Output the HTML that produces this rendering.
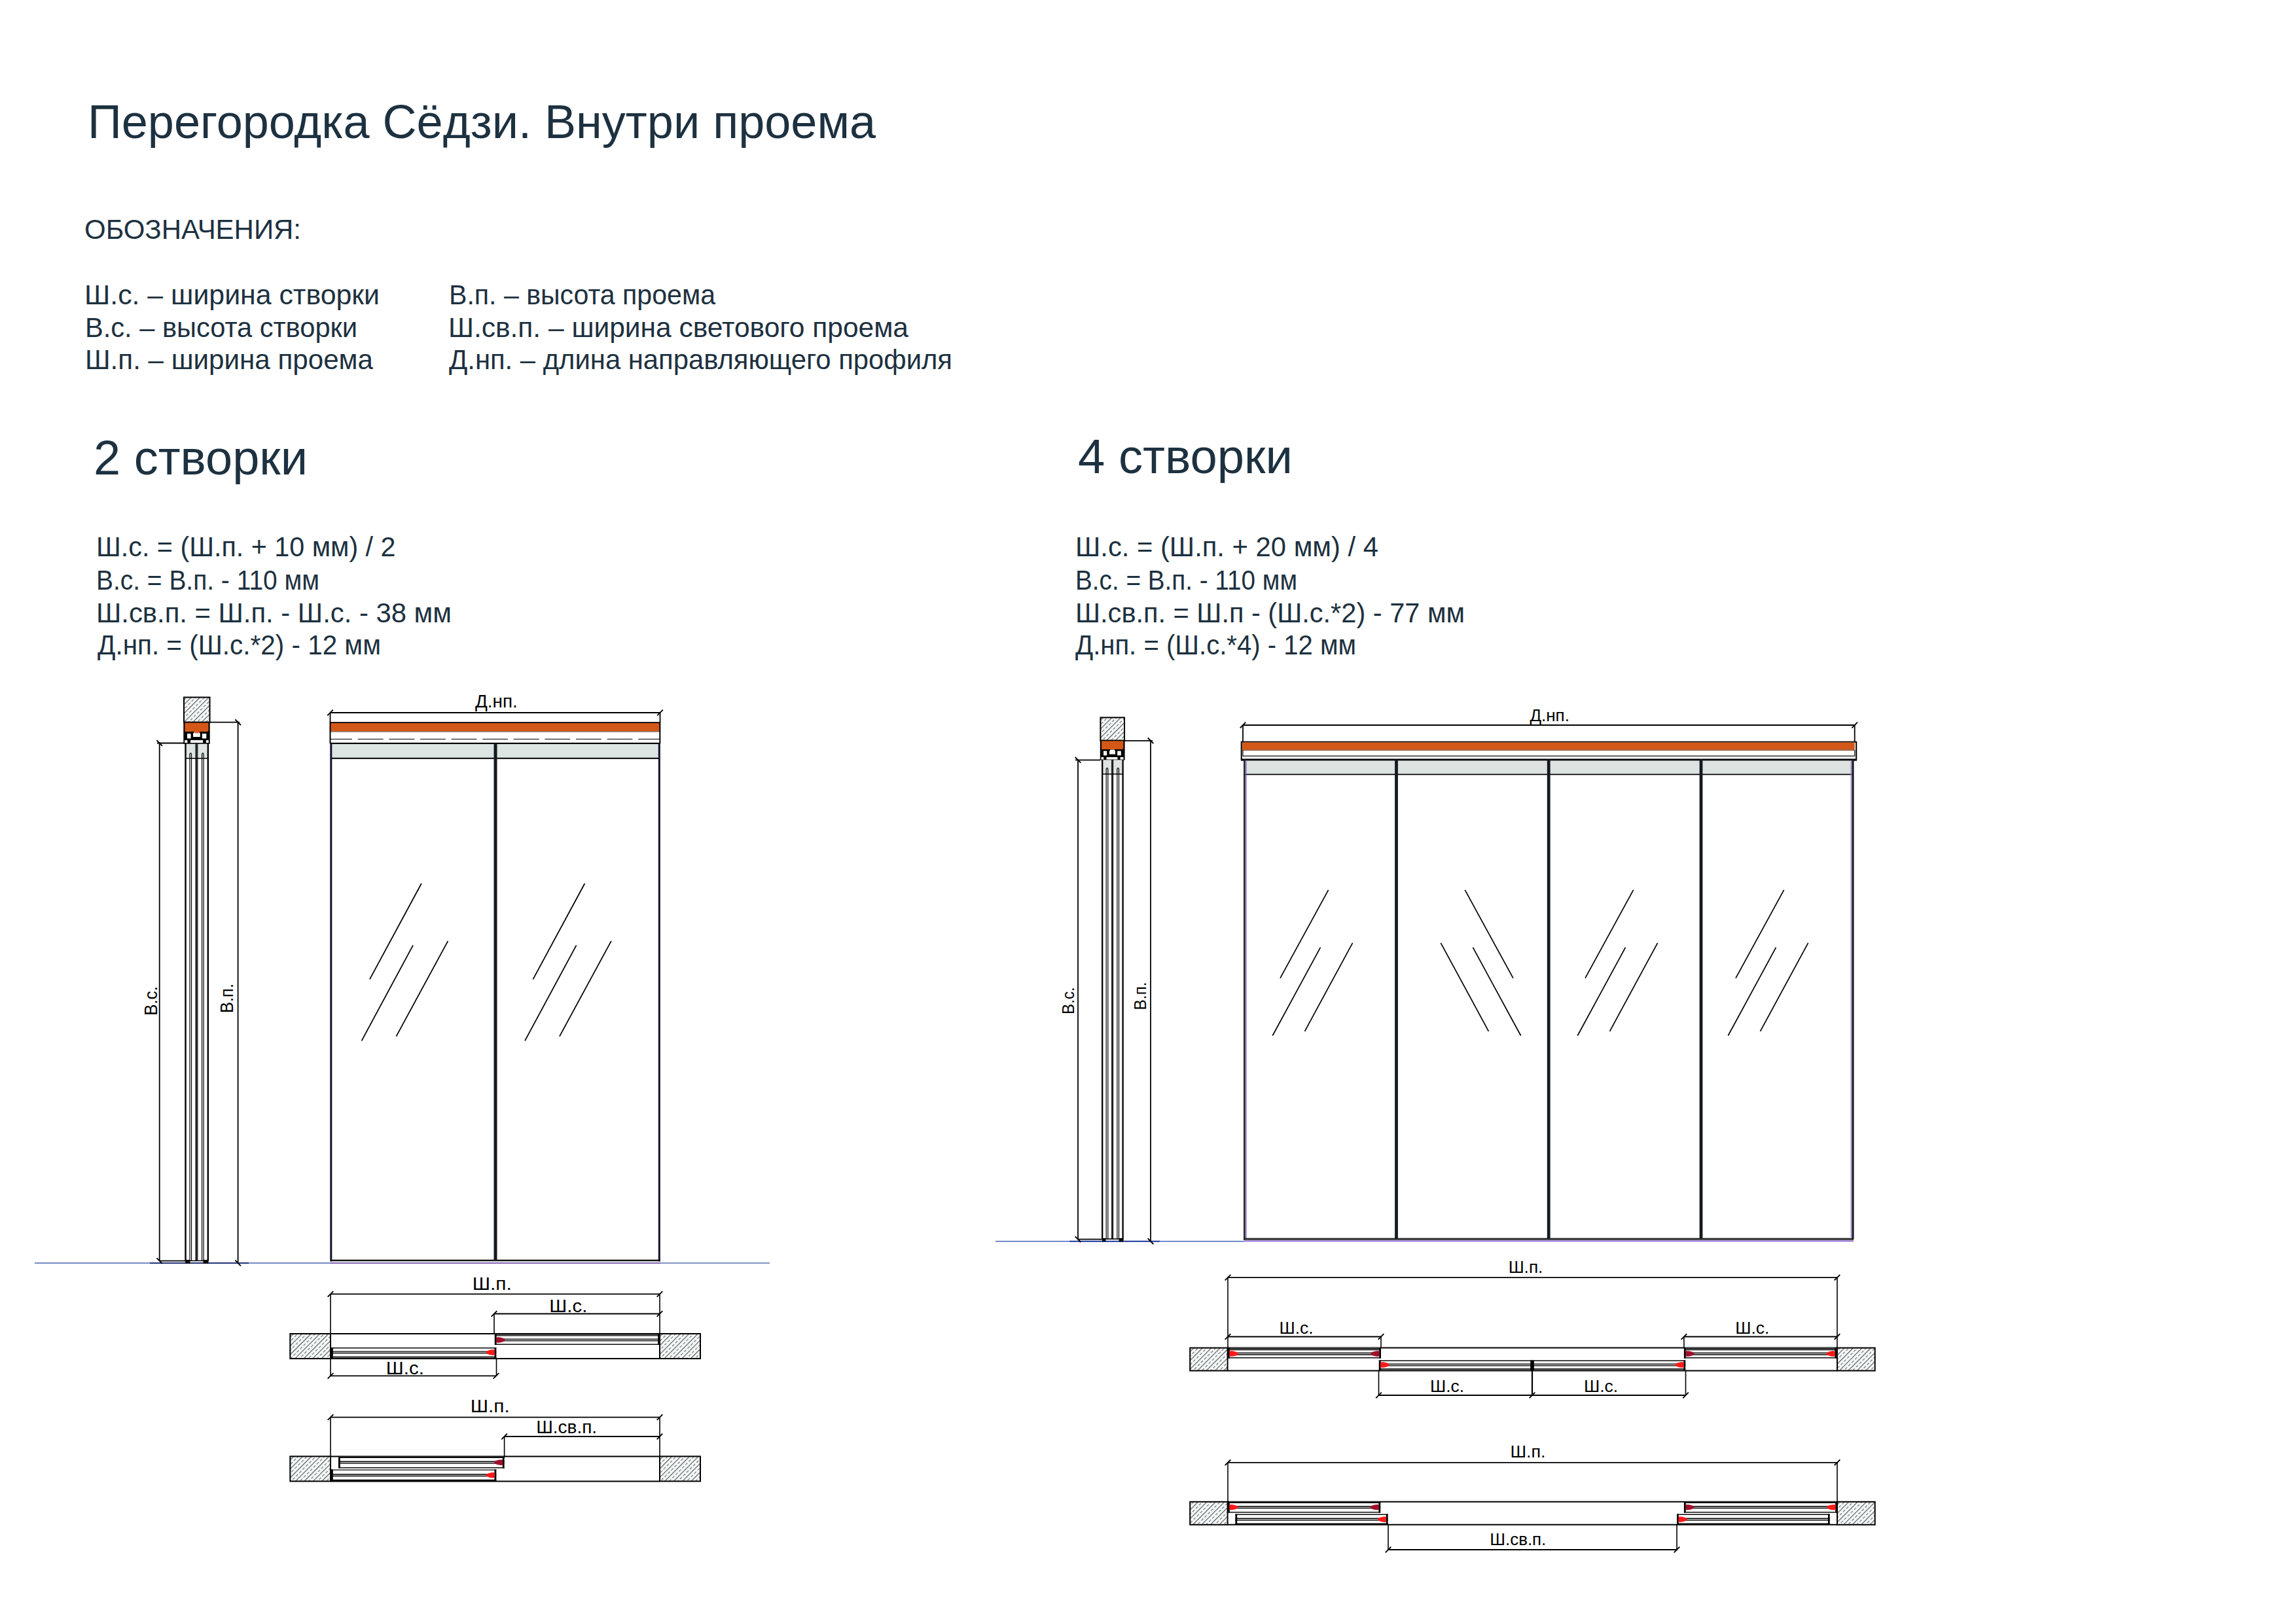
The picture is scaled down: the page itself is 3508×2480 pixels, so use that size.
<!DOCTYPE html>
<html><head><meta charset="utf-8">
<style>
html,body{margin:0;padding:0;background:#fff;}
body{width:3508px;height:2480px;overflow:hidden;position:relative;}
svg{position:absolute;left:0;top:0;font-family:"Liberation Sans",sans-serif;}
</style></head><body>
<svg width="3508" height="2480" viewBox="0 0 3508 2480">
<defs>
<pattern id="hatch" patternUnits="userSpaceOnUse" width="9.5" height="14.2" patternTransform="rotate(45)">
<rect width="9.5" height="14.2" fill="#f5f9f9"/>
<line x1="0.6" y1="-1" x2="0.6" y2="15.2" stroke="#5c5c5c" stroke-width="1.2"/>
<line x1="5.35" y1="0" x2="5.35" y2="14.2" stroke="#666" stroke-width="1.1" stroke-dasharray="4.6 2.5"/>
</pattern>
</defs>
<text x="134" y="211" font-size="73" fill="#1d3140" text-anchor="start" textLength="1204" lengthAdjust="spacingAndGlyphs" >Перегородка Сёдзи. Внутри проема</text>
<text x="129" y="365" font-size="43" fill="#1d3140" text-anchor="start" textLength="331" lengthAdjust="spacingAndGlyphs" >ОБОЗНАЧЕНИЯ:</text>
<text x="129" y="465" font-size="42" fill="#1d3140" text-anchor="start" textLength="451" lengthAdjust="spacingAndGlyphs" >Ш.с. – ширина створки</text>
<text x="130" y="515" font-size="42" fill="#1d3140" text-anchor="start" textLength="416" lengthAdjust="spacingAndGlyphs" >В.с. – высота створки</text>
<text x="130" y="564" font-size="42" fill="#1d3140" text-anchor="start" textLength="440" lengthAdjust="spacingAndGlyphs" >Ш.п. – ширина проема</text>
<text x="686" y="465" font-size="42" fill="#1d3140" text-anchor="start" textLength="407" lengthAdjust="spacingAndGlyphs" >В.п. – высота проема</text>
<text x="685" y="515" font-size="42" fill="#1d3140" text-anchor="start" textLength="703" lengthAdjust="spacingAndGlyphs" >Ш.св.п. – ширина светового проема</text>
<text x="686" y="564" font-size="42" fill="#1d3140" text-anchor="start" textLength="769" lengthAdjust="spacingAndGlyphs" >Д.нп. – длина направляющего профиля</text>
<text x="143" y="724.5" font-size="75" fill="#1d3140" text-anchor="start" textLength="327" lengthAdjust="spacingAndGlyphs" >2 створки</text>
<text x="1647" y="723" font-size="75" fill="#1d3140" text-anchor="start" textLength="328" lengthAdjust="spacingAndGlyphs" >4 створки</text>
<text x="147" y="850" font-size="42" fill="#1d3140" text-anchor="start" textLength="457.5" lengthAdjust="spacingAndGlyphs" >Ш.с. = (Ш.п. + 10 мм) / 2</text>
<text x="147" y="900.5" font-size="42" fill="#1d3140" text-anchor="start" textLength="341" lengthAdjust="spacingAndGlyphs" >В.с. = В.п. - 110 мм</text>
<text x="147" y="951" font-size="42" fill="#1d3140" text-anchor="start" textLength="543" lengthAdjust="spacingAndGlyphs" >Ш.св.п. = Ш.п. - Ш.с. - 38 мм</text>
<text x="149" y="1000" font-size="42" fill="#1d3140" text-anchor="start" textLength="433" lengthAdjust="spacingAndGlyphs" >Д.нп. = (Ш.с.*2) - 12 мм</text>
<text x="1643" y="850" font-size="42" fill="#1d3140" text-anchor="start" textLength="463" lengthAdjust="spacingAndGlyphs" >Ш.с. = (Ш.п. + 20 мм) / 4</text>
<text x="1643" y="900.5" font-size="42" fill="#1d3140" text-anchor="start" textLength="339" lengthAdjust="spacingAndGlyphs" >В.с. = В.п. - 110 мм</text>
<text x="1643" y="951" font-size="42" fill="#1d3140" text-anchor="start" textLength="595" lengthAdjust="spacingAndGlyphs" >Ш.св.п. = Ш.п - (Ш.с.*2) - 77 мм</text>
<text x="1643" y="1000" font-size="42" fill="#1d3140" text-anchor="start" textLength="429" lengthAdjust="spacingAndGlyphs" >Д.нп. = (Ш.с.*4) - 12 мм</text>
<line x1="53" y1="1930" x2="505" y2="1930" stroke="#4a66b4" stroke-width="1.6" />
<line x1="505" y1="1930" x2="1009" y2="1930" stroke="#8464b4" stroke-width="1.8" />
<line x1="1009" y1="1930" x2="1176" y2="1930" stroke="#5a72a8" stroke-width="1.6" />
<line x1="229" y1="1930" x2="380" y2="1930" stroke="#24347a" stroke-width="1.9" />
<rect x="283" y="1925" width="7.5" height="6" fill="#111" stroke="none" stroke-width="0" />
<rect x="310.5" y="1925" width="8" height="6" fill="#111" stroke="none" stroke-width="0" />
<rect x="281" y="1065.5" width="39.5" height="38" fill="url(#hatch)" stroke="#000" stroke-width="2"/>
<rect x="280.3" y="1103" width="40.4" height="33.8" fill="#000" stroke="none" stroke-width="0" />
<path d="M282.5 1104.5 H318.5 V1116 Q318.5 1118 316.5 1118 H282.5 Z" fill="#d35818"/>
<rect x="286" y="1121" width="5.6" height="7.4" fill="#fff" stroke="none" stroke-width="0" />
<rect x="308.8" y="1121" width="6.5" height="7.4" fill="#fff" stroke="none" stroke-width="0" />
<path d="M297 1118.5 L304 1118.5 L305.8 1121 L305.8 1126 L295 1126 L295 1121 Z" fill="#fff"/>
<path d="M296.5 1117.5 L305 1117.5 L303.2 1120.6 L298.3 1120.6 Z" fill="#e06020"/>
<rect x="282.2" y="1131" width="4.2" height="4" fill="#fff" stroke="none" stroke-width="0" />
<rect x="291" y="1131" width="19" height="4" fill="#fff" stroke="none" stroke-width="0" />
<rect x="314.9" y="1131" width="3.8" height="4" fill="#fff" stroke="none" stroke-width="0" />
<rect x="284.6" y="1136.8" width="14" height="21.7" fill="#dde4e2" stroke="none" stroke-width="0" />
<rect x="302.3" y="1136.8" width="14.2" height="21.7" fill="#dde4e2" stroke="none" stroke-width="0" />
<line x1="283.5" y1="1136.5" x2="283.5" y2="1927" stroke="#000" stroke-width="2.4" />
<line x1="317.8" y1="1136.5" x2="317.8" y2="1927" stroke="#000" stroke-width="2.4" />
<line x1="300.4" y1="1136.5" x2="300.4" y2="1927" stroke="#262626" stroke-width="4" />
<line x1="284" y1="1158.8" x2="317" y2="1158.8" stroke="#000" stroke-width="1.6" />
<path d="M290 1927 V1152.5 Q290 1150.8 291.25 1150.8 Q292.5 1150.8 292.5 1152.5 V1927" fill="none" stroke="#000" stroke-width="1.2"/>
<path d="M308.55 1927 V1152.5 Q308.55 1150.8 309.8 1150.8 Q311.05 1150.8 311.05 1152.5 V1927" fill="none" stroke="#000" stroke-width="1.2"/>
<line x1="283" y1="1926.5" x2="318" y2="1926.5" stroke="#000" stroke-width="1.6" />
<line x1="243.7" y1="1135.5" x2="243.7" y2="1926.6" stroke="#000" stroke-width="1.8" />
<line x1="240" y1="1135.5" x2="281" y2="1135.5" stroke="#000" stroke-width="1.8" />
<line x1="243.7" y1="1926.6" x2="283" y2="1926.6" stroke="#000" stroke-width="1.8" />
<line x1="239.4" y1="1131.2" x2="248" y2="1139.8" stroke="#000" stroke-width="1.9" />
<line x1="239.4" y1="1922.3" x2="248" y2="1930.9" stroke="#000" stroke-width="1.9" />
<line x1="363.6" y1="1103.7" x2="363.6" y2="1930" stroke="#000" stroke-width="1.8" />
<line x1="320.5" y1="1103.7" x2="366" y2="1103.7" stroke="#000" stroke-width="1.8" />
<line x1="359.3" y1="1099.4" x2="367.9" y2="1108" stroke="#000" stroke-width="1.9" />
<line x1="359.3" y1="1925.7" x2="367.9" y2="1934.3" stroke="#000" stroke-width="1.9" />
<text x="0" y="0" font-size="28" fill="#000" textLength="44.6" lengthAdjust="spacingAndGlyphs" transform="translate(240,1551.7) rotate(-90)">В.с.</text>
<text x="0" y="0" font-size="28" fill="#000" textLength="45" lengthAdjust="spacingAndGlyphs" transform="translate(356,1548) rotate(-90)">В.п.</text>
<line x1="504.5" y1="1089" x2="1008.5" y2="1089" stroke="#000" stroke-width="1.8" />
<line x1="504.5" y1="1089" x2="504.5" y2="1104" stroke="#000" stroke-width="1.8" />
<line x1="1008.5" y1="1089" x2="1008.5" y2="1104" stroke="#000" stroke-width="1.8" />
<line x1="500.2" y1="1093.3" x2="508.8" y2="1084.7" stroke="#000" stroke-width="1.9" />
<line x1="1004.2" y1="1093.3" x2="1012.8" y2="1084.7" stroke="#000" stroke-width="1.9" />
<text x="726" y="1081" font-size="27" fill="#000" text-anchor="start" textLength="64.7" lengthAdjust="spacingAndGlyphs" >Д.нп.</text>
<rect x="504.5" y="1103.2" width="504" height="2" fill="#000" stroke="none" stroke-width="0" />
<rect x="504.5" y="1105" width="504" height="12.5" fill="#d35818" stroke="none" stroke-width="0" />
<rect x="504.5" y="1117.3" width="504" height="1.3" fill="#7a5a48" stroke="none" stroke-width="0" />
<line x1="505" y1="1129.5" x2="1008" y2="1129.5" stroke="#444" stroke-width="1.5" stroke-dasharray="38.8 8.8" stroke-dashoffset="5.8"/>
<rect x="504.5" y="1134.8" width="504" height="2.4" fill="#000" stroke="none" stroke-width="0" />
<line x1="504.5" y1="1103.5" x2="504.5" y2="1136" stroke="#000" stroke-width="2" />
<line x1="1008.3" y1="1103.5" x2="1008.3" y2="1136" stroke="#000" stroke-width="2" />
<rect x="506" y="1137" width="500.5" height="21.5" fill="#dde5e3" stroke="none" stroke-width="0" />
<line x1="506" y1="1158.8" x2="1006" y2="1158.8" stroke="#000" stroke-width="2" />
<line x1="505.8" y1="1136" x2="505.8" y2="1927.6" stroke="#140f30" stroke-width="3" />
<line x1="1007.3" y1="1136" x2="1007.3" y2="1927.6" stroke="#140f30" stroke-width="3" />
<line x1="505" y1="1926" x2="1009" y2="1926" stroke="#111" stroke-width="2.6" />
<line x1="757" y1="1136" x2="757" y2="1927" stroke="#141a20" stroke-width="5" />
<line x1="643.9" y1="1350" x2="564.9" y2="1496.3" stroke="#000" stroke-width="1.75" />
<line x1="631.1" y1="1444.4" x2="552.5" y2="1590.3" stroke="#000" stroke-width="1.75" />
<line x1="684.4" y1="1437.8" x2="605.4" y2="1583.6" stroke="#000" stroke-width="1.75" />
<line x1="893.4" y1="1350" x2="814.4" y2="1496.3" stroke="#000" stroke-width="1.75" />
<line x1="880.6" y1="1444.4" x2="802" y2="1590.3" stroke="#000" stroke-width="1.75" />
<line x1="933.9" y1="1437.8" x2="854.9" y2="1583.6" stroke="#000" stroke-width="1.75" />
<rect x="443.3" y="2038" width="61.7" height="38" fill="url(#hatch)" stroke="#000" stroke-width="2"/>
<rect x="1008" y="2038" width="62" height="38" fill="url(#hatch)" stroke="#000" stroke-width="2"/>
<line x1="505" y1="2038" x2="1008" y2="2038" stroke="#000" stroke-width="2" />
<line x1="505" y1="2076" x2="1008" y2="2076" stroke="#000" stroke-width="2" />
<rect x="755.8" y="2038" width="252.2" height="17" fill="#fff" stroke="none" stroke-width="0" />
<line x1="755.8" y1="2039.85" x2="1008" y2="2039.85" stroke="#999" stroke-width="1.2" />
<line x1="755.8" y1="2038.8" x2="1008" y2="2038.8" stroke="#0a0a0a" stroke-width="1.4" />
<line x1="755.8" y1="2040.9" x2="1008" y2="2040.9" stroke="#0a0a0a" stroke-width="1.4" />
<line x1="755.8" y1="2054.2" x2="1008" y2="2054.2" stroke="#0a0a0a" stroke-width="1.4" />
<line x1="755.8" y1="2047.55" x2="1008" y2="2047.55" stroke="#aaa" stroke-width="1.6" />
<line x1="755.8" y1="2046.15" x2="1008" y2="2046.15" stroke="#0a0a0a" stroke-width="1.3" />
<line x1="755.8" y1="2048.95" x2="1008" y2="2048.95" stroke="#0a0a0a" stroke-width="1.3" />
<line x1="757.2" y1="2038" x2="757.2" y2="2055" stroke="#000" stroke-width="2.8" />
<line x1="1006.6" y1="2038" x2="1006.6" y2="2055" stroke="#000" stroke-width="2.8" />
<path d="M758.3 2043.35 C765.3 2042.95 769.3 2044.95 771.3 2046.35 L771.3 2048.75 C769.3 2050.15 765.3 2052.15 758.3 2051.75 Z" fill="#a0102a"/>
<rect x="506" y="2059" width="252.3" height="17" fill="#fff" stroke="none" stroke-width="0" />
<line x1="506" y1="2074.15" x2="758.3" y2="2074.15" stroke="#999" stroke-width="1.2" />
<line x1="506" y1="2059.8" x2="758.3" y2="2059.8" stroke="#0a0a0a" stroke-width="1.4" />
<line x1="506" y1="2073.1" x2="758.3" y2="2073.1" stroke="#0a0a0a" stroke-width="1.4" />
<line x1="506" y1="2075.2" x2="758.3" y2="2075.2" stroke="#0a0a0a" stroke-width="1.4" />
<line x1="506" y1="2066.45" x2="758.3" y2="2066.45" stroke="#aaa" stroke-width="1.6" />
<line x1="506" y1="2065.05" x2="758.3" y2="2065.05" stroke="#0a0a0a" stroke-width="1.3" />
<line x1="506" y1="2067.85" x2="758.3" y2="2067.85" stroke="#0a0a0a" stroke-width="1.3" />
<line x1="507.4" y1="2059" x2="507.4" y2="2076" stroke="#000" stroke-width="2.8" />
<line x1="756.9" y1="2059" x2="756.9" y2="2076" stroke="#000" stroke-width="2.8" />
<path d="M755.8 2062.25 C748.8 2061.85 744.8 2063.85 742.8 2065.25 L742.8 2067.65 C744.8 2069.05 748.8 2071.05 755.8 2070.65 Z" fill="#ff1a1a"/>
<line x1="505" y1="1977.4" x2="1008" y2="1977.4" stroke="#000" stroke-width="1.8" />
<line x1="500.7" y1="1981.7" x2="509.3" y2="1973.1" stroke="#000" stroke-width="1.9" />
<line x1="1003.7" y1="1981.7" x2="1012.3" y2="1973.1" stroke="#000" stroke-width="1.9" />
<line x1="505" y1="1977.4" x2="505" y2="2038" stroke="#000" stroke-width="1.6" />
<line x1="1008" y1="1977.4" x2="1008" y2="2038" stroke="#000" stroke-width="1.6" />
<text x="751.75" y="1971.1" font-size="27.5" fill="#000" text-anchor="middle" textLength="60" lengthAdjust="spacingAndGlyphs" >Ш.п.</text>
<line x1="755" y1="2007.5" x2="1008" y2="2007.5" stroke="#000" stroke-width="1.8" />
<line x1="750.7" y1="2011.8" x2="759.3" y2="2003.2" stroke="#000" stroke-width="1.9" />
<line x1="1003.7" y1="2011.8" x2="1012.3" y2="2003.2" stroke="#000" stroke-width="1.9" />
<line x1="755" y1="2007.5" x2="755" y2="2039" stroke="#000" stroke-width="1.6" />
<text x="868.35" y="2004.7" font-size="27.5" fill="#000" text-anchor="middle" textLength="58" lengthAdjust="spacingAndGlyphs" >Ш.с.</text>
<line x1="505" y1="2102.4" x2="758" y2="2102.4" stroke="#000" stroke-width="1.8" />
<line x1="500.7" y1="2106.7" x2="509.3" y2="2098.1" stroke="#000" stroke-width="1.9" />
<line x1="753.7" y1="2106.7" x2="762.3" y2="2098.1" stroke="#000" stroke-width="1.9" />
<line x1="505" y1="2076" x2="505" y2="2102.4" stroke="#000" stroke-width="1.6" />
<line x1="758.5" y1="2076" x2="758.5" y2="2102.4" stroke="#000" stroke-width="1.6" />
<text x="618.85" y="2100" font-size="27.5" fill="#000" text-anchor="middle" textLength="58" lengthAdjust="spacingAndGlyphs" >Ш.с.</text>
<rect x="443.3" y="2225.4" width="61.7" height="38" fill="url(#hatch)" stroke="#000" stroke-width="2"/>
<rect x="1008" y="2225.4" width="62" height="38" fill="url(#hatch)" stroke="#000" stroke-width="2"/>
<line x1="505" y1="2225.4" x2="1008" y2="2225.4" stroke="#000" stroke-width="2" />
<line x1="505" y1="2263.4" x2="1008" y2="2263.4" stroke="#000" stroke-width="2" />
<rect x="517" y="2225.8" width="253.6" height="17.7" fill="#fff" stroke="none" stroke-width="0" />
<line x1="517" y1="2226.9" x2="770.6" y2="2226.9" stroke="#111" stroke-width="2.4" />
<line x1="517" y1="2226.6" x2="770.6" y2="2226.6" stroke="#0a0a0a" stroke-width="1.4" />
<line x1="517" y1="2242.7" x2="770.6" y2="2242.7" stroke="#0a0a0a" stroke-width="1.4" />
<line x1="517" y1="2234.65" x2="770.6" y2="2234.65" stroke="#aaa" stroke-width="1.6" />
<line x1="517" y1="2233.25" x2="770.6" y2="2233.25" stroke="#0a0a0a" stroke-width="1.3" />
<line x1="517" y1="2236.05" x2="770.6" y2="2236.05" stroke="#0a0a0a" stroke-width="1.3" />
<line x1="518.4" y1="2225.8" x2="518.4" y2="2243.5" stroke="#000" stroke-width="2.8" />
<line x1="769.2" y1="2225.8" x2="769.2" y2="2243.5" stroke="#000" stroke-width="2.8" />
<path d="M768.1 2230.45 C761.1 2230.05 757.1 2232.05 755.1 2233.45 L755.1 2235.85 C757.1 2237.25 761.1 2239.25 768.1 2238.85 Z" fill="#a0102a"/>
<rect x="506" y="2245.3" width="252.3" height="17.7" fill="#fff" stroke="none" stroke-width="0" />
<line x1="506" y1="2261.9" x2="758.3" y2="2261.9" stroke="#111" stroke-width="2.4" />
<line x1="506" y1="2246.1" x2="758.3" y2="2246.1" stroke="#0a0a0a" stroke-width="1.4" />
<line x1="506" y1="2262.2" x2="758.3" y2="2262.2" stroke="#0a0a0a" stroke-width="1.4" />
<line x1="506" y1="2254.15" x2="758.3" y2="2254.15" stroke="#aaa" stroke-width="1.6" />
<line x1="506" y1="2252.75" x2="758.3" y2="2252.75" stroke="#0a0a0a" stroke-width="1.3" />
<line x1="506" y1="2255.55" x2="758.3" y2="2255.55" stroke="#0a0a0a" stroke-width="1.3" />
<line x1="507.4" y1="2245.3" x2="507.4" y2="2263" stroke="#000" stroke-width="2.8" />
<line x1="756.9" y1="2245.3" x2="756.9" y2="2263" stroke="#000" stroke-width="2.8" />
<path d="M755.8 2249.95 C748.8 2249.55 744.8 2251.55 742.8 2252.95 L742.8 2255.35 C744.8 2256.75 748.8 2258.75 755.8 2258.35 Z" fill="#ff1a1a"/>
<line x1="505" y1="2165.6" x2="1008" y2="2165.6" stroke="#000" stroke-width="1.8" />
<line x1="500.7" y1="2169.9" x2="509.3" y2="2161.3" stroke="#000" stroke-width="1.9" />
<line x1="1003.7" y1="2169.9" x2="1012.3" y2="2161.3" stroke="#000" stroke-width="1.9" />
<line x1="505" y1="2165.6" x2="505" y2="2226" stroke="#000" stroke-width="1.6" />
<line x1="1008" y1="2165.6" x2="1008" y2="2226" stroke="#000" stroke-width="1.6" />
<text x="748.75" y="2158.2" font-size="27.5" fill="#000" text-anchor="middle" textLength="60" lengthAdjust="spacingAndGlyphs" >Ш.п.</text>
<line x1="770.6" y1="2195" x2="1008" y2="2195" stroke="#000" stroke-width="1.8" />
<line x1="766.3" y1="2199.3" x2="774.9" y2="2190.7" stroke="#000" stroke-width="1.9" />
<line x1="1003.7" y1="2199.3" x2="1012.3" y2="2190.7" stroke="#000" stroke-width="1.9" />
<line x1="770.6" y1="2195" x2="770.6" y2="2227" stroke="#000" stroke-width="1.6" />
<text x="865.65" y="2189.8" font-size="27.5" fill="#000" text-anchor="middle" textLength="93" lengthAdjust="spacingAndGlyphs" >Ш.св.п.</text>
<line x1="1521" y1="1896.7" x2="1901" y2="1896.7" stroke="#4a66c0" stroke-width="1.6" />
<line x1="1901" y1="1896.4" x2="2832" y2="1896.4" stroke="#8a5ad0" stroke-width="1.7" />
<line x1="1634" y1="1896.7" x2="1772" y2="1896.7" stroke="#2440a0" stroke-width="1.9" />
<rect x="1684" y="1892" width="5.5" height="5.5" fill="#111" stroke="none" stroke-width="0" />
<rect x="1709.5" y="1892" width="7" height="5.5" fill="#111" stroke="none" stroke-width="0" />
<rect x="1681.4" y="1096.4" width="36.6" height="35.1" fill="url(#hatch)" stroke="#000" stroke-width="2"/>
<rect x="1680.8" y="1131" width="37.8" height="30.5" fill="#000" stroke="none" stroke-width="0" />
<path d="M1683 1132.3 H1716.4 V1143 Q1716.4 1145 1714.4 1145 H1683 Z" fill="#d35818"/>
<rect x="1686" y="1147.5" width="5.2" height="6.8" fill="#fff" stroke="none" stroke-width="0" />
<rect x="1707.2" y="1147.5" width="5.6" height="6.8" fill="#fff" stroke="none" stroke-width="0" />
<path d="M1696.5 1145.6 L1702.7 1145.6 L1704 1148 L1704 1152.5 L1695 1152.5 L1695 1148 Z" fill="#fff"/>
<rect x="1682.5" y="1157" width="3.8" height="3.5" fill="#fff" stroke="none" stroke-width="0" />
<rect x="1690.5" y="1157" width="17" height="3.5" fill="#fff" stroke="none" stroke-width="0" />
<rect x="1711.6" y="1157" width="4.9" height="3.5" fill="#fff" stroke="none" stroke-width="0" />
<rect x="1685" y="1161.5" width="13" height="21" fill="#dde4e2" stroke="none" stroke-width="0" />
<rect x="1701" y="1161.5" width="13.7" height="21" fill="#dde4e2" stroke="none" stroke-width="0" />
<line x1="1684.2" y1="1161" x2="1684.2" y2="1893.7" stroke="#000" stroke-width="2.3" />
<line x1="1715.6" y1="1161" x2="1715.6" y2="1893.7" stroke="#000" stroke-width="2.3" />
<line x1="1699.6" y1="1161" x2="1699.6" y2="1893.7" stroke="#222" stroke-width="3.2" />
<line x1="1684.5" y1="1182.8" x2="1715.5" y2="1182.8" stroke="#000" stroke-width="1.5" />
<path d="M1690.2 1893.7 V1175.5 Q1690.2 1173.7 1691.5 1173.7 Q1692.8 1173.7 1692.8 1175.5 V1893.7" fill="none" stroke="#000" stroke-width="1.2"/>
<path d="M1706.9 1893.7 V1175.5 Q1706.9 1173.7 1708.2 1173.7 Q1709.5 1173.7 1709.5 1175.5 V1893.7" fill="none" stroke="#000" stroke-width="1.2"/>
<line x1="1684" y1="1893.2" x2="1716" y2="1893.2" stroke="#000" stroke-width="1.6" />
<line x1="1647" y1="1161.3" x2="1647" y2="1893.7" stroke="#000" stroke-width="1.8" />
<line x1="1643" y1="1161.3" x2="1681" y2="1161.3" stroke="#000" stroke-width="1.8" />
<line x1="1647" y1="1893.7" x2="1684" y2="1893.7" stroke="#000" stroke-width="1.8" />
<line x1="1642.7" y1="1157" x2="1651.3" y2="1165.6" stroke="#000" stroke-width="1.9" />
<line x1="1642.7" y1="1889.4" x2="1651.3" y2="1898" stroke="#000" stroke-width="1.9" />
<line x1="1758" y1="1131.8" x2="1758" y2="1896.7" stroke="#000" stroke-width="1.8" />
<line x1="1718" y1="1131.8" x2="1761" y2="1131.8" stroke="#000" stroke-width="1.8" />
<line x1="1753.7" y1="1127.5" x2="1762.3" y2="1136.1" stroke="#000" stroke-width="1.9" />
<line x1="1753.7" y1="1892.4" x2="1762.3" y2="1901" stroke="#000" stroke-width="1.9" />
<text x="0" y="0" font-size="26" fill="#000" textLength="41.8" lengthAdjust="spacingAndGlyphs" transform="translate(1640.8,1550) rotate(-90)">В.с.</text>
<text x="0" y="0" font-size="26" fill="#000" textLength="43" lengthAdjust="spacingAndGlyphs" transform="translate(1750.9,1543.4) rotate(-90)">В.п.</text>
<line x1="1899" y1="1108" x2="2833.7" y2="1108" stroke="#000" stroke-width="1.8" />
<line x1="1899" y1="1108" x2="1899" y2="1133" stroke="#000" stroke-width="1.8" />
<line x1="2833.7" y1="1108" x2="2833.7" y2="1133" stroke="#000" stroke-width="1.8" />
<line x1="1894.7" y1="1112.3" x2="1903.3" y2="1103.7" stroke="#000" stroke-width="1.9" />
<line x1="2829.4" y1="1112.3" x2="2838" y2="1103.7" stroke="#000" stroke-width="1.9" />
<text x="2337.5" y="1102" font-size="25.7" fill="#000" text-anchor="start" textLength="60.4" lengthAdjust="spacingAndGlyphs" >Д.нп.</text>
<rect x="1896.7" y="1133.7" width="939.5" height="26.7" fill="#fff" stroke="#000" stroke-width="2" />
<rect x="1898" y="1134.4" width="935.7" height="11.4" fill="#d35818" stroke="none" stroke-width="0" />
<rect x="1898" y="1145.5" width="935.7" height="1.5" fill="#8a5a40" stroke="none" stroke-width="0" />
<path d="M1899 1146 V1155.3 H2833.7 V1146" fill="none" stroke="#333" stroke-width="1.4"/>
<rect x="1896" y="1160" width="941" height="2.6" fill="#05060a" stroke="none" stroke-width="0" />
<rect x="1903" y="1162.5" width="927" height="20" fill="#dde3e1" stroke="none" stroke-width="0" />
<line x1="1902" y1="1183.3" x2="2830" y2="1183.3" stroke="#000" stroke-width="1.7" />
<line x1="1901.3" y1="1161" x2="1901.3" y2="1893" stroke="#222" stroke-width="2.6" />
<line x1="1903.8" y1="1163" x2="1903.8" y2="1893" stroke="#7a5ac0" stroke-width="1.4" />
<line x1="2831" y1="1161" x2="2831" y2="1893" stroke="#141020" stroke-width="3" />
<line x1="2828.3" y1="1163" x2="2828.3" y2="1891" stroke="#9a80d0" stroke-width="1.4" />
<line x1="1900" y1="1893.2" x2="2832" y2="1893.2" stroke="#111" stroke-width="3" />
<line x1="1902" y1="1893.2" x2="2830" y2="1893.2" stroke="#666" stroke-width="0.8" />
<line x1="2133.5" y1="1161" x2="2133.5" y2="1893" stroke="#141a20" stroke-width="4.8" />
<line x1="2366.2" y1="1161" x2="2366.2" y2="1893" stroke="#141a20" stroke-width="4.8" />
<line x1="2599" y1="1161" x2="2599" y2="1893" stroke="#141a20" stroke-width="4.8" />
<line x1="2029.6" y1="1359.9" x2="1956" y2="1494.7" stroke="#000" stroke-width="1.7" />
<line x1="2017.5" y1="1447.7" x2="1944.3" y2="1582.5" stroke="#000" stroke-width="1.7" />
<line x1="2066.6" y1="1440.8" x2="1993.5" y2="1575.8" stroke="#000" stroke-width="1.7" />
<line x1="2238.3" y1="1359.9" x2="2311.9" y2="1494.7" stroke="#000" stroke-width="1.7" />
<line x1="2250.4" y1="1447.7" x2="2323.6" y2="1582.5" stroke="#000" stroke-width="1.7" />
<line x1="2201.3" y1="1440.8" x2="2274.4" y2="1575.8" stroke="#000" stroke-width="1.7" />
<line x1="2495.6" y1="1359.9" x2="2422" y2="1494.7" stroke="#000" stroke-width="1.7" />
<line x1="2483.5" y1="1447.7" x2="2410.3" y2="1582.5" stroke="#000" stroke-width="1.7" />
<line x1="2532.6" y1="1440.8" x2="2459.5" y2="1575.8" stroke="#000" stroke-width="1.7" />
<line x1="2725.6" y1="1359.9" x2="2652" y2="1494.7" stroke="#000" stroke-width="1.7" />
<line x1="2713.5" y1="1447.7" x2="2640.3" y2="1582.5" stroke="#000" stroke-width="1.7" />
<line x1="2762.6" y1="1440.8" x2="2689.5" y2="1575.8" stroke="#000" stroke-width="1.7" />
<rect x="1818.2" y="2059.6" width="57.4" height="34.9" fill="url(#hatch)" stroke="#000" stroke-width="2"/>
<rect x="2807" y="2059.6" width="57.7" height="34.9" fill="url(#hatch)" stroke="#000" stroke-width="2"/>
<line x1="1875.6" y1="2059.6" x2="2807" y2="2059.6" stroke="#000" stroke-width="2" />
<line x1="1875.6" y1="2094.5" x2="2807" y2="2094.5" stroke="#000" stroke-width="2" />
<rect x="1876" y="2059.6" width="234" height="15.9" fill="#fff" stroke="none" stroke-width="0" />
<line x1="1876" y1="2061.45" x2="2110" y2="2061.45" stroke="#999" stroke-width="1.2" />
<line x1="1876" y1="2060.4" x2="2110" y2="2060.4" stroke="#0a0a0a" stroke-width="1.4" />
<line x1="1876" y1="2062.5" x2="2110" y2="2062.5" stroke="#0a0a0a" stroke-width="1.4" />
<line x1="1876" y1="2074.7" x2="2110" y2="2074.7" stroke="#0a0a0a" stroke-width="1.4" />
<line x1="1876" y1="2068.6" x2="2110" y2="2068.6" stroke="#aaa" stroke-width="1.6" />
<line x1="1876" y1="2067.2" x2="2110" y2="2067.2" stroke="#0a0a0a" stroke-width="1.3" />
<line x1="1876" y1="2070" x2="2110" y2="2070" stroke="#0a0a0a" stroke-width="1.3" />
<line x1="1877.4" y1="2059.6" x2="1877.4" y2="2075.5" stroke="#000" stroke-width="2.8" />
<line x1="2108.6" y1="2059.6" x2="2108.6" y2="2075.5" stroke="#000" stroke-width="2.8" />
<path d="M1878.5 2064.4 C1885.5 2064 1889.5 2066 1891.5 2067.4 L1891.5 2069.8 C1889.5 2071.2 1885.5 2073.2 1878.5 2072.8 Z" fill="#ff1a1a"/>
<path d="M2107.5 2064.4 C2100.5 2064 2096.5 2066 2094.5 2067.4 L2094.5 2069.8 C2096.5 2071.2 2100.5 2073.2 2107.5 2072.8 Z" fill="#a0102a"/>
<rect x="2106.8" y="2078.5" width="234.2" height="16" fill="#fff" stroke="none" stroke-width="0" />
<line x1="2106.8" y1="2092.65" x2="2341" y2="2092.65" stroke="#999" stroke-width="1.2" />
<line x1="2106.8" y1="2079.3" x2="2341" y2="2079.3" stroke="#0a0a0a" stroke-width="1.4" />
<line x1="2106.8" y1="2091.6" x2="2341" y2="2091.6" stroke="#0a0a0a" stroke-width="1.4" />
<line x1="2106.8" y1="2093.7" x2="2341" y2="2093.7" stroke="#0a0a0a" stroke-width="1.4" />
<line x1="2106.8" y1="2085.45" x2="2341" y2="2085.45" stroke="#aaa" stroke-width="1.6" />
<line x1="2106.8" y1="2084.05" x2="2341" y2="2084.05" stroke="#0a0a0a" stroke-width="1.3" />
<line x1="2106.8" y1="2086.85" x2="2341" y2="2086.85" stroke="#0a0a0a" stroke-width="1.3" />
<line x1="2108.2" y1="2078.5" x2="2108.2" y2="2094.5" stroke="#000" stroke-width="2.8" />
<line x1="2339.6" y1="2078.5" x2="2339.6" y2="2094.5" stroke="#000" stroke-width="2.8" />
<path d="M2109.3 2081.25 C2116.3 2080.85 2120.3 2082.85 2122.3 2084.25 L2122.3 2086.65 C2120.3 2088.05 2116.3 2090.05 2109.3 2089.65 Z" fill="#ff1a1a"/>
<rect x="2341" y="2078.5" width="234.2" height="16" fill="#fff" stroke="none" stroke-width="0" />
<line x1="2341" y1="2092.65" x2="2575.2" y2="2092.65" stroke="#999" stroke-width="1.2" />
<line x1="2341" y1="2079.3" x2="2575.2" y2="2079.3" stroke="#0a0a0a" stroke-width="1.4" />
<line x1="2341" y1="2091.6" x2="2575.2" y2="2091.6" stroke="#0a0a0a" stroke-width="1.4" />
<line x1="2341" y1="2093.7" x2="2575.2" y2="2093.7" stroke="#0a0a0a" stroke-width="1.4" />
<line x1="2341" y1="2085.45" x2="2575.2" y2="2085.45" stroke="#aaa" stroke-width="1.6" />
<line x1="2341" y1="2084.05" x2="2575.2" y2="2084.05" stroke="#0a0a0a" stroke-width="1.3" />
<line x1="2341" y1="2086.85" x2="2575.2" y2="2086.85" stroke="#0a0a0a" stroke-width="1.3" />
<line x1="2342.4" y1="2078.5" x2="2342.4" y2="2094.5" stroke="#000" stroke-width="2.8" />
<line x1="2573.8" y1="2078.5" x2="2573.8" y2="2094.5" stroke="#000" stroke-width="2.8" />
<path d="M2572.7 2081.25 C2565.7 2080.85 2561.7 2082.85 2559.7 2084.25 L2559.7 2086.65 C2561.7 2088.05 2565.7 2090.05 2572.7 2089.65 Z" fill="#ff1a1a"/>
<rect x="2572.9" y="2059.6" width="233.3" height="15.9" fill="#fff" stroke="none" stroke-width="0" />
<line x1="2572.9" y1="2061.45" x2="2806.2" y2="2061.45" stroke="#999" stroke-width="1.2" />
<line x1="2572.9" y1="2060.4" x2="2806.2" y2="2060.4" stroke="#0a0a0a" stroke-width="1.4" />
<line x1="2572.9" y1="2062.5" x2="2806.2" y2="2062.5" stroke="#0a0a0a" stroke-width="1.4" />
<line x1="2572.9" y1="2074.7" x2="2806.2" y2="2074.7" stroke="#0a0a0a" stroke-width="1.4" />
<line x1="2572.9" y1="2068.6" x2="2806.2" y2="2068.6" stroke="#aaa" stroke-width="1.6" />
<line x1="2572.9" y1="2067.2" x2="2806.2" y2="2067.2" stroke="#0a0a0a" stroke-width="1.3" />
<line x1="2572.9" y1="2070" x2="2806.2" y2="2070" stroke="#0a0a0a" stroke-width="1.3" />
<line x1="2574.3" y1="2059.6" x2="2574.3" y2="2075.5" stroke="#000" stroke-width="2.8" />
<line x1="2804.8" y1="2059.6" x2="2804.8" y2="2075.5" stroke="#000" stroke-width="2.8" />
<path d="M2575.4 2064.4 C2582.4 2064 2586.4 2066 2588.4 2067.4 L2588.4 2069.8 C2586.4 2071.2 2582.4 2073.2 2575.4 2072.8 Z" fill="#a0102a"/>
<path d="M2803.7 2064.4 C2796.7 2064 2792.7 2066 2790.7 2067.4 L2790.7 2069.8 C2792.7 2071.2 2796.7 2073.2 2803.7 2072.8 Z" fill="#ff1a1a"/>
<line x1="1876" y1="1952.1" x2="2807" y2="1952.1" stroke="#000" stroke-width="1.8" />
<line x1="1871.7" y1="1956.4" x2="1880.3" y2="1947.8" stroke="#000" stroke-width="1.9" />
<line x1="2802.7" y1="1956.4" x2="2811.3" y2="1947.8" stroke="#000" stroke-width="1.9" />
<line x1="1876" y1="1952.1" x2="1876" y2="2060" stroke="#000" stroke-width="1.6" />
<line x1="2807" y1="1952.1" x2="2807" y2="2060" stroke="#000" stroke-width="1.6" />
<text x="2331" y="1944.8" font-size="26" fill="#000" text-anchor="middle" textLength="52.7" lengthAdjust="spacingAndGlyphs" >Ш.п.</text>
<line x1="1876" y1="2042.5" x2="2110" y2="2042.5" stroke="#000" stroke-width="1.8" />
<line x1="1871.7" y1="2046.8" x2="1880.3" y2="2038.2" stroke="#000" stroke-width="1.9" />
<line x1="2105.7" y1="2046.8" x2="2114.3" y2="2038.2" stroke="#000" stroke-width="1.9" />
<line x1="2110" y1="2042.5" x2="2110" y2="2060" stroke="#000" stroke-width="1.6" />
<text x="1980.5" y="2037.7" font-size="26" fill="#000" text-anchor="middle" textLength="52.2" lengthAdjust="spacingAndGlyphs" >Ш.с.</text>
<line x1="2572.9" y1="2042.5" x2="2807" y2="2042.5" stroke="#000" stroke-width="1.8" />
<line x1="2568.6" y1="2046.8" x2="2577.2" y2="2038.2" stroke="#000" stroke-width="1.9" />
<line x1="2802.7" y1="2046.8" x2="2811.3" y2="2038.2" stroke="#000" stroke-width="1.9" />
<line x1="2572.9" y1="2042.5" x2="2572.9" y2="2060" stroke="#000" stroke-width="1.6" />
<text x="2677.3" y="2037.7" font-size="26" fill="#000" text-anchor="middle" textLength="52.2" lengthAdjust="spacingAndGlyphs" >Ш.с.</text>
<line x1="2106.5" y1="2132" x2="2575.5" y2="2132" stroke="#000" stroke-width="1.8" />
<line x1="2102.2" y1="2136.3" x2="2110.8" y2="2127.7" stroke="#000" stroke-width="1.9" />
<line x1="2336.7" y1="2136.3" x2="2345.3" y2="2127.7" stroke="#000" stroke-width="1.9" />
<line x1="2571.2" y1="2136.3" x2="2579.8" y2="2127.7" stroke="#000" stroke-width="1.9" />
<line x1="2106.5" y1="2094" x2="2106.5" y2="2132" stroke="#000" stroke-width="1.6" />
<line x1="2341" y1="2094" x2="2341" y2="2132" stroke="#000" stroke-width="2.2" />
<line x1="2575.5" y1="2094" x2="2575.5" y2="2132" stroke="#000" stroke-width="1.6" />
<text x="2211" y="2127" font-size="26" fill="#000" text-anchor="middle" textLength="52.2" lengthAdjust="spacingAndGlyphs" >Ш.с.</text>
<text x="2446" y="2127" font-size="26" fill="#000" text-anchor="middle" textLength="52.2" lengthAdjust="spacingAndGlyphs" >Ш.с.</text>
<rect x="1818.2" y="2294.8" width="57.4" height="35" fill="url(#hatch)" stroke="#000" stroke-width="2"/>
<rect x="2807" y="2294.8" width="57.7" height="35" fill="url(#hatch)" stroke="#000" stroke-width="2"/>
<line x1="1875.6" y1="2294.8" x2="2807" y2="2294.8" stroke="#000" stroke-width="2" />
<line x1="1875.6" y1="2329.8" x2="2807" y2="2329.8" stroke="#000" stroke-width="2" />
<rect x="1876" y="2294.8" width="233.2" height="16.7" fill="#fff" stroke="none" stroke-width="0" />
<line x1="1876" y1="2295.9" x2="2109.2" y2="2295.9" stroke="#111" stroke-width="2.4" />
<line x1="1876" y1="2295.6" x2="2109.2" y2="2295.6" stroke="#0a0a0a" stroke-width="1.4" />
<line x1="1876" y1="2310.7" x2="2109.2" y2="2310.7" stroke="#0a0a0a" stroke-width="1.4" />
<line x1="1876" y1="2303.15" x2="2109.2" y2="2303.15" stroke="#aaa" stroke-width="1.6" />
<line x1="1876" y1="2301.75" x2="2109.2" y2="2301.75" stroke="#0a0a0a" stroke-width="1.3" />
<line x1="1876" y1="2304.55" x2="2109.2" y2="2304.55" stroke="#0a0a0a" stroke-width="1.3" />
<line x1="1877.4" y1="2294.8" x2="1877.4" y2="2311.5" stroke="#000" stroke-width="2.8" />
<line x1="2107.8" y1="2294.8" x2="2107.8" y2="2311.5" stroke="#000" stroke-width="2.8" />
<path d="M1878.5 2298.95 C1885.5 2298.55 1889.5 2300.55 1891.5 2301.95 L1891.5 2304.35 C1889.5 2305.75 1885.5 2307.75 1878.5 2307.35 Z" fill="#ff1a1a"/>
<path d="M2106.7 2298.95 C2099.7 2298.55 2095.7 2300.55 2093.7 2301.95 L2093.7 2304.35 C2095.7 2305.75 2099.7 2307.75 2106.7 2307.35 Z" fill="#a0102a"/>
<rect x="1887.4" y="2313.5" width="233.2" height="16.3" fill="#fff" stroke="none" stroke-width="0" />
<line x1="1887.4" y1="2328.7" x2="2120.6" y2="2328.7" stroke="#111" stroke-width="2.4" />
<line x1="1887.4" y1="2314.3" x2="2120.6" y2="2314.3" stroke="#0a0a0a" stroke-width="1.4" />
<line x1="1887.4" y1="2329" x2="2120.6" y2="2329" stroke="#0a0a0a" stroke-width="1.4" />
<line x1="1887.4" y1="2321.65" x2="2120.6" y2="2321.65" stroke="#aaa" stroke-width="1.6" />
<line x1="1887.4" y1="2320.25" x2="2120.6" y2="2320.25" stroke="#0a0a0a" stroke-width="1.3" />
<line x1="1887.4" y1="2323.05" x2="2120.6" y2="2323.05" stroke="#0a0a0a" stroke-width="1.3" />
<line x1="1888.8" y1="2313.5" x2="1888.8" y2="2329.8" stroke="#000" stroke-width="2.8" />
<line x1="2119.2" y1="2313.5" x2="2119.2" y2="2329.8" stroke="#000" stroke-width="2.8" />
<path d="M2118.1 2317.45 C2111.1 2317.05 2107.1 2319.05 2105.1 2320.45 L2105.1 2322.85 C2107.1 2324.25 2111.1 2326.25 2118.1 2325.85 Z" fill="#ff1a1a"/>
<rect x="2572.9" y="2294.8" width="234.1" height="16.7" fill="#fff" stroke="none" stroke-width="0" />
<line x1="2572.9" y1="2295.9" x2="2807" y2="2295.9" stroke="#111" stroke-width="2.4" />
<line x1="2572.9" y1="2295.6" x2="2807" y2="2295.6" stroke="#0a0a0a" stroke-width="1.4" />
<line x1="2572.9" y1="2310.7" x2="2807" y2="2310.7" stroke="#0a0a0a" stroke-width="1.4" />
<line x1="2572.9" y1="2303.15" x2="2807" y2="2303.15" stroke="#aaa" stroke-width="1.6" />
<line x1="2572.9" y1="2301.75" x2="2807" y2="2301.75" stroke="#0a0a0a" stroke-width="1.3" />
<line x1="2572.9" y1="2304.55" x2="2807" y2="2304.55" stroke="#0a0a0a" stroke-width="1.3" />
<line x1="2574.3" y1="2294.8" x2="2574.3" y2="2311.5" stroke="#000" stroke-width="2.8" />
<line x1="2805.6" y1="2294.8" x2="2805.6" y2="2311.5" stroke="#000" stroke-width="2.8" />
<path d="M2575.4 2298.95 C2582.4 2298.55 2586.4 2300.55 2588.4 2301.95 L2588.4 2304.35 C2586.4 2305.75 2582.4 2307.75 2575.4 2307.35 Z" fill="#a0102a"/>
<path d="M2804.5 2298.95 C2797.5 2298.55 2793.5 2300.55 2791.5 2301.95 L2791.5 2304.35 C2793.5 2305.75 2797.5 2307.75 2804.5 2307.35 Z" fill="#ff1a1a"/>
<rect x="2562" y="2313.5" width="233.7" height="16.3" fill="#fff" stroke="none" stroke-width="0" />
<line x1="2562" y1="2328.7" x2="2795.7" y2="2328.7" stroke="#111" stroke-width="2.4" />
<line x1="2562" y1="2314.3" x2="2795.7" y2="2314.3" stroke="#0a0a0a" stroke-width="1.4" />
<line x1="2562" y1="2329" x2="2795.7" y2="2329" stroke="#0a0a0a" stroke-width="1.4" />
<line x1="2562" y1="2321.65" x2="2795.7" y2="2321.65" stroke="#aaa" stroke-width="1.6" />
<line x1="2562" y1="2320.25" x2="2795.7" y2="2320.25" stroke="#0a0a0a" stroke-width="1.3" />
<line x1="2562" y1="2323.05" x2="2795.7" y2="2323.05" stroke="#0a0a0a" stroke-width="1.3" />
<line x1="2563.4" y1="2313.5" x2="2563.4" y2="2329.8" stroke="#000" stroke-width="2.8" />
<line x1="2794.3" y1="2313.5" x2="2794.3" y2="2329.8" stroke="#000" stroke-width="2.8" />
<path d="M2564.5 2317.45 C2571.5 2317.05 2575.5 2319.05 2577.5 2320.45 L2577.5 2322.85 C2575.5 2324.25 2571.5 2326.25 2564.5 2325.85 Z" fill="#ff1a1a"/>
<line x1="1876" y1="2234.8" x2="2807" y2="2234.8" stroke="#000" stroke-width="1.8" />
<line x1="1871.7" y1="2239.1" x2="1880.3" y2="2230.5" stroke="#000" stroke-width="1.9" />
<line x1="2802.7" y1="2239.1" x2="2811.3" y2="2230.5" stroke="#000" stroke-width="1.9" />
<line x1="1876" y1="2234.8" x2="1876" y2="2295" stroke="#000" stroke-width="1.6" />
<line x1="2807" y1="2234.8" x2="2807" y2="2295" stroke="#000" stroke-width="1.6" />
<text x="2334.5" y="2226.7" font-size="26" fill="#000" text-anchor="middle" textLength="54" lengthAdjust="spacingAndGlyphs" >Ш.п.</text>
<line x1="2121" y1="2368" x2="2562" y2="2368" stroke="#000" stroke-width="1.8" />
<line x1="2116.7" y1="2372.3" x2="2125.3" y2="2363.7" stroke="#000" stroke-width="1.9" />
<line x1="2557.7" y1="2372.3" x2="2566.3" y2="2363.7" stroke="#000" stroke-width="1.9" />
<line x1="2121" y1="2329" x2="2121" y2="2368" stroke="#000" stroke-width="1.6" />
<line x1="2562" y1="2329" x2="2562" y2="2368" stroke="#000" stroke-width="1.6" />
<text x="2319.3" y="2360.8" font-size="26" fill="#000" text-anchor="middle" textLength="86" lengthAdjust="spacingAndGlyphs" >Ш.св.п.</text>
</svg>
</body></html>
